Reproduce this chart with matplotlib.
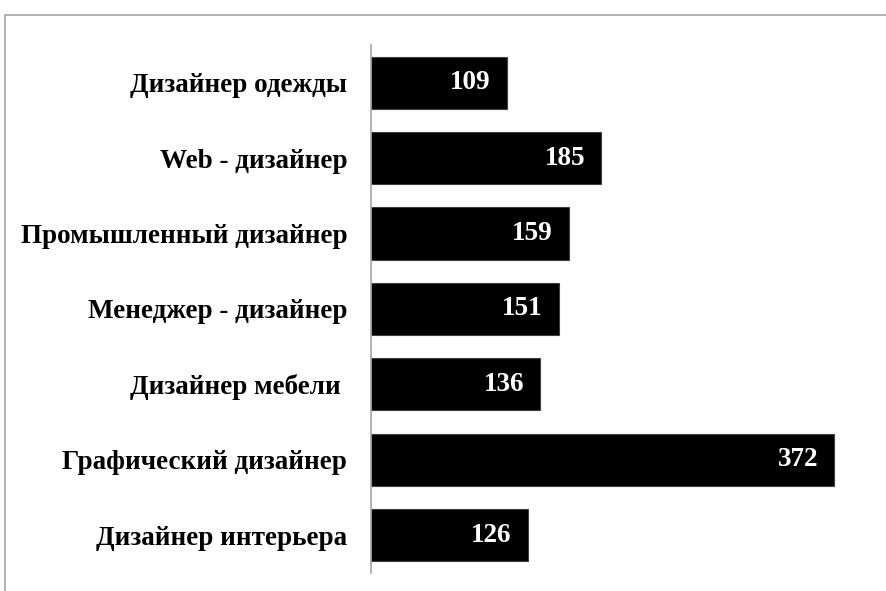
import matplotlib
matplotlib.use('Agg')
import matplotlib.pyplot as plt
from matplotlib.patches import Rectangle

categories = ['Дизайнер одежды', 'Web - дизайнер', 'Промышленный дизайнер',
              'Менеджер - дизайнер', 'Дизайнер мебели ', 'Графический дизайнер',
              'Дизайнер интерьера']
values = [109, 185, 159, 151, 136, 372, 126]

plt.rcParams['font.family'] = ['Liberation Serif', 'DejaVu Serif']
plt.rcParams['font.weight'] = 'bold'

fig = plt.figure(figsize=(8.87, 5.91), dpi=100)
ax = fig.add_axes([0.418, 0.0305, 0.562, 0.8935])

pos = list(range(len(categories)))
bars = ax.barh(pos, values, height=0.69, color='black', edgecolor='#404040', linewidth=0.8)
ax.set_ylim(len(categories) - 0.5, -0.5)
ax.set_xlim(0, 400)

# value labels inside the bar end
for b, v in zip(bars, values):
    ax.annotate(str(v), (b.get_width(), b.get_y() + b.get_height() / 2),
                xytext=(-16, 0), textcoords='offset pixels',
                ha='right', va='center', color='white', fontsize=19.5, fontweight='bold')

ax.set_yticks(pos)
ax.set_yticklabels(categories, fontsize=19.5, fontweight='bold')
ax.tick_params(axis='y', length=0, pad=17)
ax.set_xticks([])
for s in ['top', 'right', 'bottom']:
    ax.spines[s].set_visible(False)
ax.spines['left'].set_color('#a6a6a6')
ax.spines['left'].set_linewidth(1.2)

# outer chart frame
fig.patches.append(Rectangle((5 / 887, -0.1), 1.2, 1 - 15 / 591 + 0.1,
                             transform=fig.transFigure, fill=False,
                             edgecolor='#a6a6a6', linewidth=1.2))

fig.savefig('out.png', dpi=100)
